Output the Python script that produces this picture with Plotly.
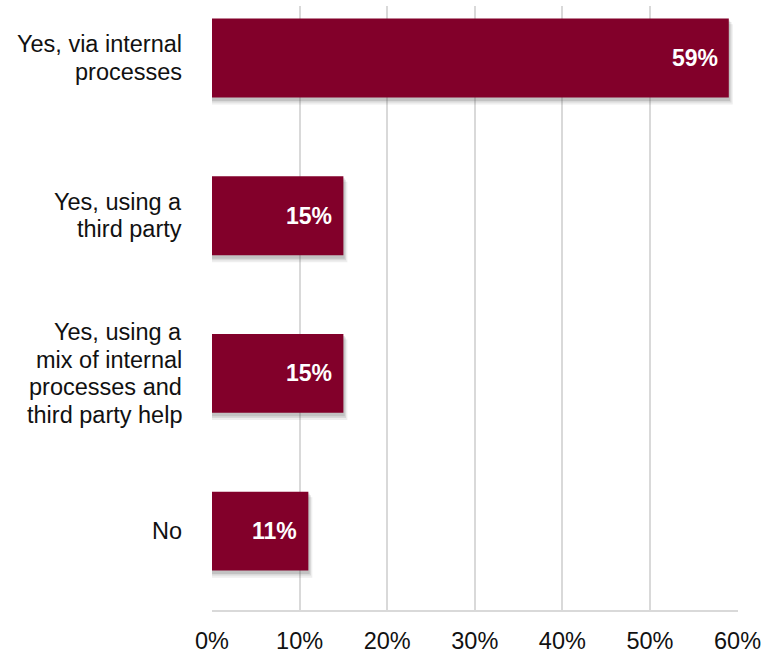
import plotly.graph_objects as go

# Survey responses and their shares (%)
categories = [
    "Yes, via internal processes",
    "Yes, using a third party",
    "Yes, using a mix of internal processes and third party help",
    "No",
]
category_lines = [
    ["Yes, via internal", "processes"],
    ["Yes, using a", "third party"],
    ["Yes, using a", "mix of internal", "processes and", "third party help"],
    ["No"],
]
shares = [59, 15, 15, 11]
tick_values = [0, 10, 20, 30, 40, 50, 60]
tick_labels = ["0%", "10%", "20%", "30%", "40%", "50%", "60%"]

FONT = "Liberation Sans, Arial, sans-serif"
BAR_COLOR = "#82002A"
GRID_COLOR = "#D9D9D9"
TEXT_COLOR = "#111111"
BAR_WIDTH = 0.5
LABEL_SIZE = 23.5
VALUE_SIZE = 23
LINE_GAP = 27.5  # px between lines of a category label

fig = go.Figure()

# Soft drop shadow: stacked translucent copies slightly offset down/right
for dx, dy, alpha in [(0.45, 0.035, 0.10), (0.3, 0.022, 0.14), (0.15, 0.012, 0.18)]:
    fig.add_trace(go.Bar(
        y=categories,
        x=[v + dx for v in shares],
        orientation="h",
        width=BAR_WIDTH + 0.01,
        offset=-BAR_WIDTH / 2 + dy,
        marker=dict(color=f"rgba(90,90,90,{alpha})", line=dict(width=0)),
        hoverinfo="skip",
        showlegend=False,
    ))

fig.add_trace(go.Bar(
    y=categories,
    x=shares,
    orientation="h",
    width=BAR_WIDTH,
    offset=-BAR_WIDTH / 2,
    marker=dict(color=BAR_COLOR, line=dict(width=0)),
    showlegend=False,
))

# Value labels just inside the end of each bar
for cat, v in zip(categories, shares):
    fig.add_annotation(
        x=v, y=cat, text=f"<b>{v}%</b>",
        xanchor="right", yanchor="middle", xshift=-9,
        showarrow=False,
        font=dict(family=FONT, size=VALUE_SIZE, color="white"),
    )

# Category labels, right-aligned left of the axis with tight line spacing
for cat, lines in zip(categories, category_lines):
    n = len(lines)
    for i, line in enumerate(lines):
        fig.add_annotation(
            x=0, y=cat, text=line,
            xanchor="right", yanchor="middle", xshift=-28,
            yshift=((n - 1) / 2 - i) * LINE_GAP,
            showarrow=False, align="right",
            font=dict(family=FONT, size=LABEL_SIZE, color=TEXT_COLOR),
        )

fig.update_layout(
    width=763, height=655,
    margin=dict(l=212, r=25, t=6, b=45, autoexpand=False),
    paper_bgcolor="white", plot_bgcolor="white",
    barmode="overlay",
    font=dict(family=FONT, size=LABEL_SIZE, color=TEXT_COLOR),
    xaxis=dict(
        range=[0, 60.05],
        tickvals=tick_values, ticktext=tick_labels,
        showgrid=True, gridcolor=GRID_COLOR, gridwidth=2,
        zeroline=False,
        showline=True, linecolor=GRID_COLOR, linewidth=2,
        ticks="", ticklabelstandoff=9, ticklabeloverflow="allow",
        automargin=False,
    ),
    yaxis=dict(
        categoryorder="array", categoryarray=categories,
        range=[3.5, -0.33],
        showgrid=False, zeroline=False, showline=False,
        showticklabels=False, ticks="",
        automargin=False,
    ),
)

fig.write_html("out.html")
